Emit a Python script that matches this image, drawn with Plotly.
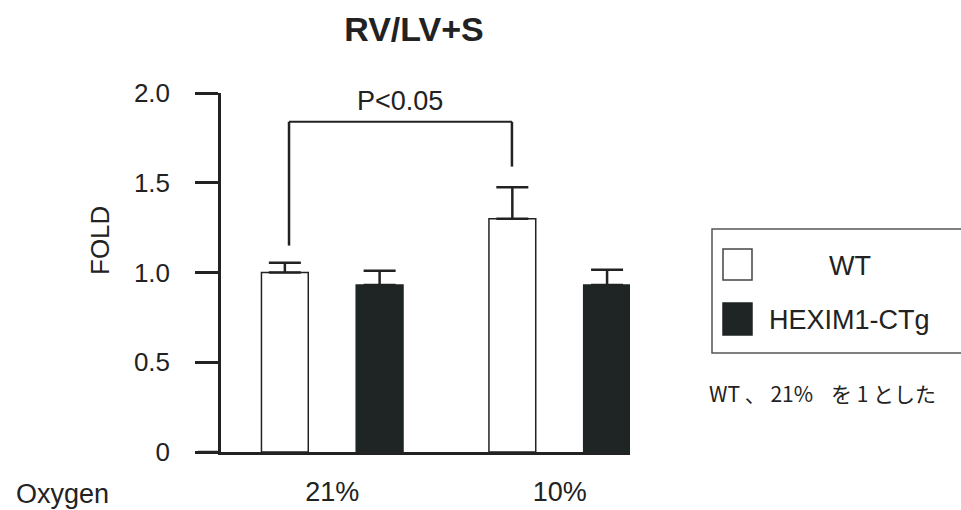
import plotly.graph_objects as go

# ---- data ----
oxygen = ["21%", "10%"]
wt_values = [1.00, 1.30]
wt_err = [0.055, 0.175]
hex_values = [0.93, 0.93]
hex_err = [0.08, 0.085]
y_ticks = [0, 0.5, 1.0, 1.5, 2.0]
y_ticklabels = ["0", "0.5", "1.0", "1.5", "2.0"]
# significance bracket (x in category units, y in data units)
bracket_x = [-0.19, 0.79]
bracket_top = 1.84
bracket_legs = [1.15, 1.59]
p_label = "P<0.05"

W, H = 961, 510
# target pixel positions in the window
L_t, R_t, T_t, B_t = 221, 630, 93, 452
L, T = L_t, T_t
R = W - R_t
B = H - B_t
PW, PH = W - L - R, H - T - B

def px(x):
    return (x - L_t) / PW

def py(y):
    return (B_t - y) / PH

FONT = "Liberation Sans, Arial, sans-serif"
INK = "#222222"

fig = go.Figure()
fig.add_trace(go.Bar(
    x=oxygen, y=wt_values, name="WT",
    marker=dict(color="white", line=dict(color=INK, width=1.5)),
    error_y=dict(type="data", symmetric=False, array=wt_err, arrayminus=[0, 0],
                 color=INK, thickness=2.5, width=16),
))
fig.add_trace(go.Bar(
    x=oxygen, y=hex_values, name="HEXIM1-CTg",
    marker=dict(color="#1f2525", line=dict(color="#1f2525", width=1.5)),
    error_y=dict(type="data", symmetric=False, array=hex_err, arrayminus=[0, 0],
                 color=INK, thickness=2.5, width=16),
))

shapes = []
# bracket
shapes.append(dict(type="line", xref="x", yref="y", x0=bracket_x[0], x1=bracket_x[1],
                   y0=bracket_top, y1=bracket_top, line=dict(color=INK, width=2)))
for bx, by in zip(bracket_x, bracket_legs):
    shapes.append(dict(type="line", xref="x", yref="y", x0=bx, x1=bx,
                       y0=by, y1=bracket_top, line=dict(color=INK, width=2.5)))
# x-axis extension to the left of the y axis
shapes.append(dict(type="line", xref="paper", yref="y", x0=px(198), x1=0, y0=0, y1=0,
                   line=dict(color=INK, width=2.5)))
# manual legend
shapes.append(dict(type="rect", xref="paper", yref="paper", x0=px(712), x1=px(975),
                   y0=py(353), y1=py(229), line=dict(color="#555555", width=1.5)))
shapes.append(dict(type="rect", xref="paper", yref="paper", x0=px(723), x1=px(752),
                   y0=py(280), y1=py(249), fillcolor="white", line=dict(color="#444444", width=1.5)))
shapes.append(dict(type="rect", xref="paper", yref="paper", x0=px(723), x1=px(752),
                   y0=py(335), y1=py(303), fillcolor="#1f2525", line=dict(color="#1f2525", width=1.5)))

NOTE_FONT = dict(family="Noto Sans CJK JP", size=21, color=INK)
annotations = [
    dict(text=p_label, xref="x", yref="paper", x=sum(bracket_x) / 2, y=py(101),
         showarrow=False, font=dict(family=FONT, size=27, color=INK), xanchor="center", yanchor="middle"),
    dict(text="FOLD", xref="paper", yref="paper", x=px(100), y=py(241), textangle=-90,
         showarrow=False, font=dict(family=FONT, size=26, color=INK), xanchor="center", yanchor="middle"),
    dict(text="Oxygen", xref="paper", yref="paper", x=px(62), y=py(494),
         showarrow=False, font=dict(family=FONT, size=27, color=INK), xanchor="center", yanchor="middle"),
    dict(text="WT", xref="paper", yref="paper", x=px(850), y=py(266),
         showarrow=False, font=dict(family=FONT, size=27, color=INK), xanchor="center", yanchor="middle"),
    dict(text="HEXIM1-CTg", xref="paper", yref="paper", x=px(767), y=py(320),
         showarrow=False, font=dict(family=FONT, size=27, color=INK), xanchor="left", yanchor="middle"),
    dict(text="WT \u3001 21%", xref="paper", yref="paper", x=px(707), y=py(393),
         showarrow=False, font=NOTE_FONT, xanchor="left", yanchor="middle"),
    dict(text="を 1 とした", xref="paper", yref="paper", x=px(938), y=py(393),
         showarrow=False, font=NOTE_FONT, xanchor="right", yanchor="middle"),
]

fig.update_layout(
    width=W, height=H, autosize=False,
    margin=dict(l=L, r=R, t=T, b=B, pad=0),
    paper_bgcolor="white", plot_bgcolor="white",
    showlegend=False,
    barmode="group", bargap=0.167, bargroupgap=0.506,
    title=dict(text="<b>RV/LV+S</b>", x=414 / W, y=1 - 29 / H,
               xanchor="center", yanchor="middle",
               font=dict(family=FONT, size=34, color=INK)),
    xaxis=dict(range=[-0.489, 1.309], showline=True, linecolor=INK, linewidth=2.5,
               ticks="", showgrid=False, zeroline=False, automargin=False,
               tickfont=dict(family=FONT, size=27, color=INK), ticklabelstandoff=14),
    yaxis=dict(range=[0, 2.0], tickvals=y_ticks, ticktext=y_ticklabels,
               showline=True, linecolor=INK, linewidth=2.5,
               ticks="outside", ticklen=23, tickwidth=2.5, tickcolor=INK,
               showgrid=False, zeroline=False, automargin=False,
               tickfont=dict(family=FONT, size=26, color=INK), ticklabelstandoff=20),
    shapes=shapes, annotations=annotations,
)

fig.write_html(
    "out.html",
    config={"displayModeBar": False},
    post_script="document.documentElement.style.overflow='hidden';"
                "document.body.style.margin='0';document.body.style.overflow='hidden';",
)
